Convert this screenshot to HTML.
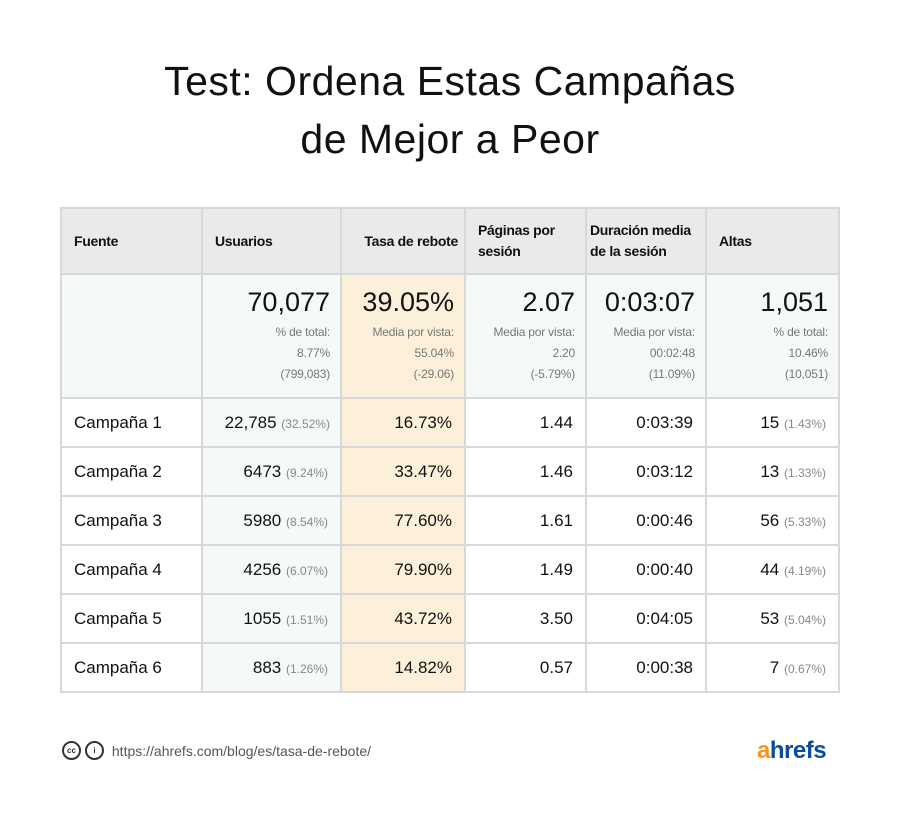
<!DOCTYPE html>
<html><head><meta charset="utf-8"><style>
body{margin:0;width:900px;height:822px;background:#fff;font-family:"Liberation Sans",sans-serif;color:#111;position:relative;overflow:hidden}
h1{position:absolute;top:52px;left:0;width:900px;margin:0;text-align:center;font-family:"Liberation Sans",sans-serif;font-weight:normal;font-size:41px;line-height:58px;letter-spacing:0.5px}
table{position:absolute;left:60px;top:207px;border-collapse:collapse;table-layout:fixed;width:778px}
td{border:2px solid #d6d8d9;padding:0 12px;font-size:16px;white-space:nowrap;overflow:hidden}
tr.h td{height:64px;background:#e8eaeb;font-size:14px;font-weight:bold;line-height:21px;vertical-align:middle;letter-spacing:-0.3px}
tr.s td{height:112px;background:#f6f9fa;text-align:right;vertical-align:top;padding:10px 10px 0 2px}
tr.s .big{font-size:27px;line-height:34px;margin-bottom:3px}
tr.s .sm{font-size:12px;color:#777;line-height:21px;letter-spacing:-0.2px}
tr.d td{height:47px;text-align:right;font-size:17px}
tr.d td:first-child{text-align:left}
tr.d td:nth-child(2){background:#f6f9fa}
.y{background:#fdf0da!important}
.g{color:#888;font-size:12px}
.foot{position:absolute;top:741px;left:62px;font-size:14px;color:#555;display:flex;align-items:center;gap:4px}
.c{width:15px;height:15px;border:2px solid #333;border-radius:50%;font-size:8px;font-weight:bold;display:inline-flex;align-items:center;justify-content:center;color:#333}
.logo{position:absolute;left:757px;top:737px;font-weight:bold;font-size:24px;color:#0a4d9c;letter-spacing:-0.5px}
</style></head><body>
<h1>Test: Ordena Estas Campañas<br>de Mejor a Peor</h1>
<table>
<colgroup><col style="width:141px"><col style="width:139px"><col style="width:124px"><col style="width:121px"><col style="width:120px"><col style="width:133px"></colgroup>
<tr class="h"><td>Fuente</td><td>Usuarios</td><td style="text-align:right;padding-right:6px">Tasa de rebote</td><td>Páginas por<br>sesión</td><td style="padding-left:3px;padding-right:0">Duración media<br>de la sesión</td><td>Altas</td></tr>
<tr class="s"><td></td>
<td><div class="big">70,077</div><div class="sm">% de total:<br>8.77%<br>(799,083)</div></td>
<td class="y"><div class="big">39.05%</div><div class="sm">Media por vista:<br>55.04%<br>(-29.06)</div></td>
<td><div class="big">2.07</div><div class="sm">Media por vista:<br>2.20<br>(-5.79%)</div></td>
<td><div class="big">0:03:07</div><div class="sm">Media por vista:<br>00:02:48<br>(11.09%)</div></td>
<td><div class="big">1,051</div><div class="sm">% de total:<br>10.46%<br>(10,051)</div></td></tr>
<tr class="d"><td>Campaña 1</td><td style="padding-right:10px">22,785 <span class="g">(32.52%)</span></td><td class="y">16.73%</td><td>1.44</td><td>0:03:39</td><td>15 <span class="g">(1.43%)</span></td></tr>
<tr class="d"><td>Campaña 2</td><td>6473 <span class="g">(9.24%)</span></td><td class="y">33.47%</td><td>1.46</td><td>0:03:12</td><td>13 <span class="g">(1.33%)</span></td></tr>
<tr class="d"><td>Campaña 3</td><td>5980 <span class="g">(8.54%)</span></td><td class="y">77.60%</td><td>1.61</td><td>0:00:46</td><td>56 <span class="g">(5.33%)</span></td></tr>
<tr class="d"><td>Campaña 4</td><td>4256 <span class="g">(6.07%)</span></td><td class="y">79.90%</td><td>1.49</td><td>0:00:40</td><td>44 <span class="g">(4.19%)</span></td></tr>
<tr class="d"><td>Campaña 5</td><td>1055 <span class="g">(1.51%)</span></td><td class="y">43.72%</td><td>3.50</td><td>0:04:05</td><td>53 <span class="g">(5.04%)</span></td></tr>
<tr class="d"><td>Campaña 6</td><td>883 <span class="g">(1.26%)</span></td><td class="y">14.82%</td><td>0.57</td><td>0:00:38</td><td>7 <span class="g">(0.67%)</span></td></tr>
</table>
<div class="foot"><span class="c">cc</span><span class="c">i</span>&nbsp;https://ahrefs.com/blog/es/tasa-de-rebote/</div>
<div class="logo"><span style="color:#f7941d">a</span>hrefs</div>
</body></html>
